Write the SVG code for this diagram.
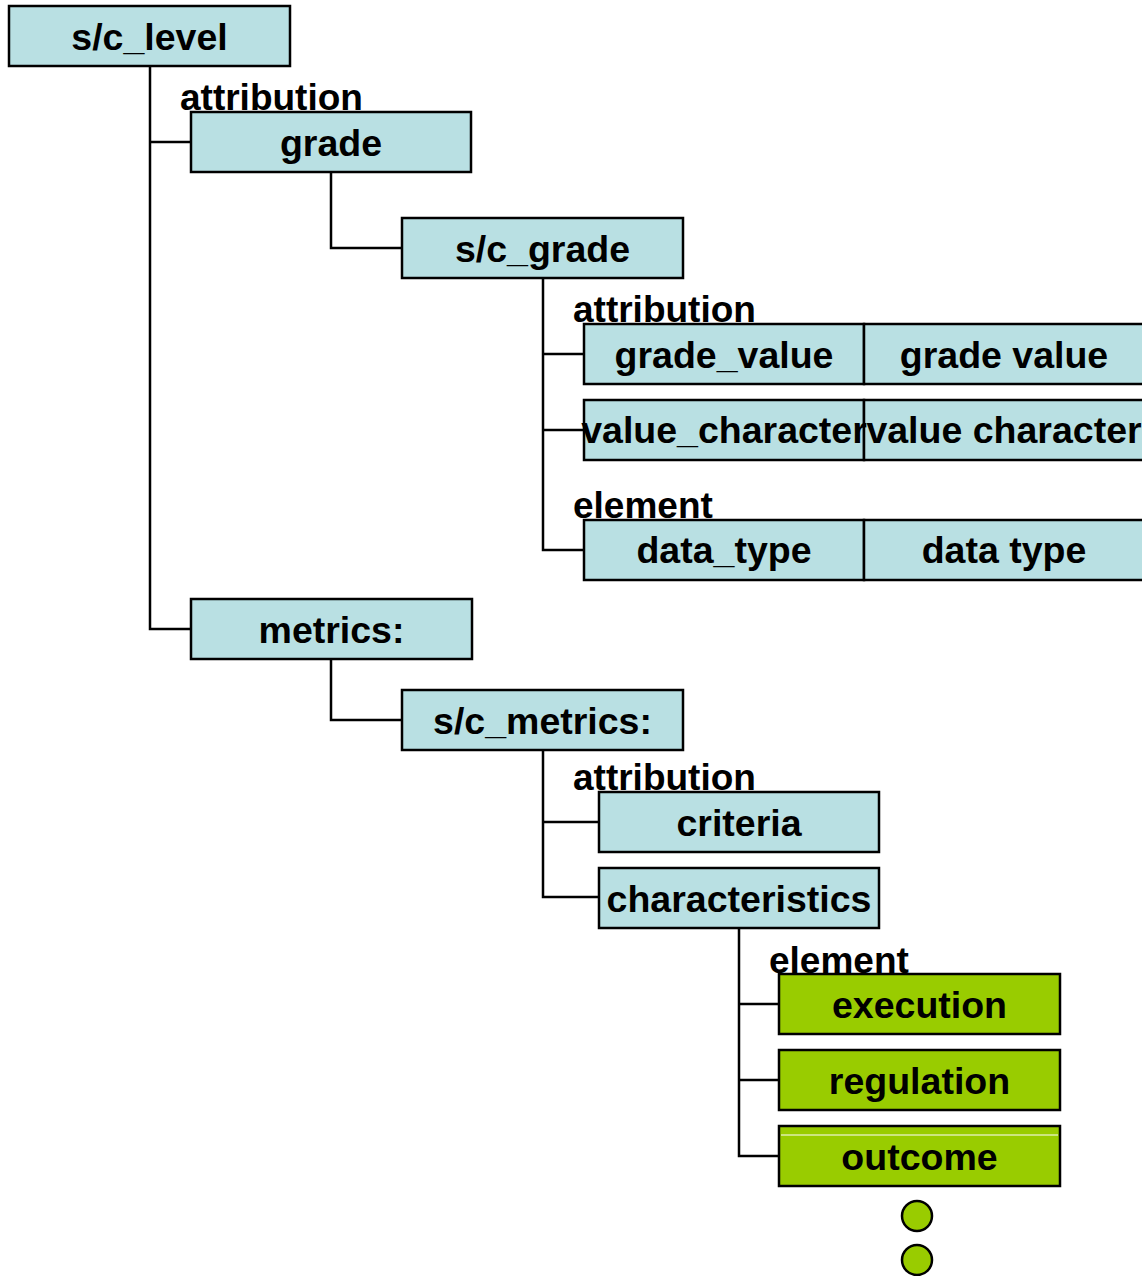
<svg xmlns="http://www.w3.org/2000/svg" width="1142" height="1276" viewBox="0 0 1142 1276">
  <style>
    .box { fill: #B9E0E3; stroke: #000; stroke-width: 2.5; }
    .leaf { fill: #99CC00; stroke: #000; stroke-width: 2.5; }
    .t { font-family: "Liberation Sans", Arial, sans-serif; font-weight: bold; font-size: 37.5px; fill: #000; text-anchor: middle; }
    .lbl { font-family: "Liberation Sans", Arial, sans-serif; font-weight: bold; font-size: 37px; fill: #000; }
    .wire { fill: none; stroke: #000; stroke-width: 2.5; }
  </style>

  <!-- tree connectors -->
  <g id="connectors" class="wire">
    <path d="M150 66 V629 H191 M150 142 H191"/>
    <path d="M331 172 V248 H402"/>
    <path d="M543 278 V550 H584 M543 354 H584 M543 430 H584"/>
    <path d="M331 659 V720 H402"/>
    <path d="M543 750 V897 H599 M543 822 H599"/>
    <path d="M739 928 V1156 H779 M739 1004 H779 M739 1080 H779"/>
  </g>

  <!-- group labels -->
  <g id="labels">
    <text class="lbl" x="180" y="110">attribution</text>
    <text class="lbl" x="573" y="322">attribution</text>
    <text class="lbl" x="573" y="518">element</text>
    <text class="lbl" x="573" y="790">attribution</text>
    <text class="lbl" x="769" y="973">element</text>
  </g>

  <g id="sc_level">
    <rect class="box" x="9" y="6" width="281" height="60"/>
    <text class="t" x="149.5" y="50">s/c_level</text>
  </g>
  <g id="grade">
    <rect class="box" x="191" y="112" width="280" height="60"/>
    <text class="t" x="331" y="156">grade</text>
  </g>
  <g id="sc_grade">
    <rect class="box" x="402" y="218" width="281" height="60"/>
    <text class="t" x="542.5" y="262">s/c_grade</text>
  </g>
  <g id="grade_value">
    <rect class="box" x="584" y="324" width="280" height="60"/>
    <rect class="box" x="864" y="324" width="280" height="60"/>
    <text class="t" x="724" y="368">grade_value</text>
    <text class="t" x="1004" y="368">grade value</text>
  </g>
  <g id="value_character">
    <rect class="box" x="584" y="400" width="280" height="60"/>
    <rect class="box" x="864" y="400" width="280" height="60"/>
    <text class="t" x="724" y="443">value_character</text>
    <text class="t" x="1004" y="443">value character</text>
  </g>
  <g id="data_type">
    <rect class="box" x="584" y="520" width="280" height="60"/>
    <rect class="box" x="864" y="520" width="280" height="60"/>
    <text class="t" x="724" y="563">data_type</text>
    <text class="t" x="1004" y="563">data type</text>
  </g>
  <g id="metrics">
    <rect class="box" x="191" y="599" width="281" height="60"/>
    <text class="t" x="331.5" y="643">metrics:</text>
  </g>
  <g id="sc_metrics">
    <rect class="box" x="402" y="690" width="281" height="60"/>
    <text class="t" x="542.5" y="734">s/c_metrics:</text>
  </g>
  <g id="criteria">
    <rect class="box" x="599" y="792" width="280" height="60"/>
    <text class="t" x="739" y="836">criteria</text>
  </g>
  <g id="characteristics">
    <rect class="box" x="599" y="868" width="280" height="60"/>
    <text class="t" x="739" y="912">characteristics</text>
  </g>
  <g id="execution">
    <rect class="leaf" x="779" y="974" width="281" height="60"/>
    <text class="t" x="919.5" y="1018">execution</text>
  </g>
  <g id="regulation">
    <rect class="leaf" x="779" y="1050" width="281" height="60"/>
    <text class="t" x="919.5" y="1094">regulation</text>
  </g>
  <g id="outcome">
    <rect class="leaf" x="779" y="1126" width="281" height="60"/>
    <line x1="781" y1="1135" x2="1058" y2="1135" stroke="#fff" stroke-width="1"/>
    <text class="t" x="919.5" y="1170">outcome</text>
  </g>
  <g id="more">
    <circle class="leaf" cx="917" cy="1216" r="15"/>
    <circle class="leaf" cx="917" cy="1260" r="15"/>
  </g>
</svg>
